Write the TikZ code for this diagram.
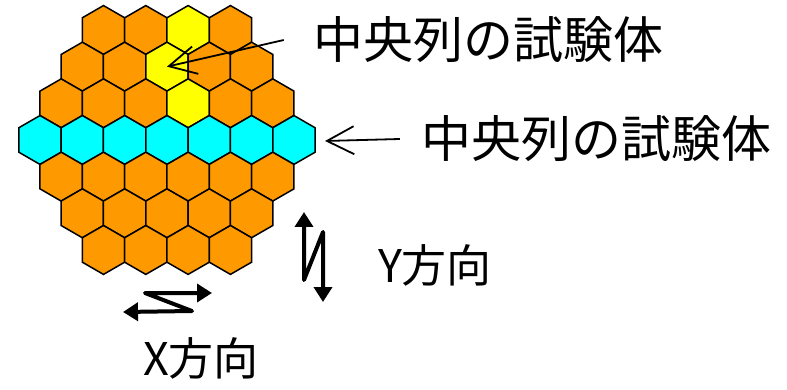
\documentclass[tikz,border=0pt]{standalone}
\usepackage{fontspec}
\setmainfont{Noto Sans CJK JP}
\usetikzlibrary{arrows.meta}
\definecolor{hexorange}{HTML}{FF9900}
\definecolor{hexyellow}{HTML}{FFFF00}
\definecolor{hexcyan}{HTML}{00FFFF}
\begin{document}
\begin{tikzpicture}[x=1pt,y=-1pt,
  hexcell/.style={draw=black, line width=1.5pt, line join=miter},
  bigtext/.style={inner sep=0pt, font=\fontsize{50}{60}\selectfont},
  dirtext/.style={inner sep=0pt, font=\fontsize{45}{54}\selectfont},
  pointer/.style={line width=1.8pt, -{Straight Barb[length=27pt,width=28pt]}},
  dirarrow/.style={line width=4pt, line join=round,
    {Triangle[length=15pt,width=18pt]}-{Triangle[length=15pt,width=18pt]}}]
\useasboundingbox (0,0) rectangle (787,390);
\def\R{24.44}
\def\W{42.32}
\foreach \r/\n in {1/4,2/5,3/6,4/7,5/6,6/5,7/4} {
  \foreach \c in {1,...,\n} {
    \pgfmathsetmacro\cx{40+(7-\n)*\W/2+(\c-1)*\W}
    \pgfmathsetmacro\cy{30+(\r-1)*1.5*\R}
    \def\col{hexorange}
    \ifnum\r=4 \def\col{hexcyan}\fi
    \ifnum\r\c=13 \def\col{hexyellow}\fi
    \ifnum\r\c=23 \def\col{hexyellow}\fi
    \ifnum\r\c=34 \def\col{hexyellow}\fi
    \coordinate (h\r\c) at (\cx,\cy);
    \draw[hexcell, fill=\col] (h\r\c) +(90:\R) -- +(30:\R) -- +(-30:\R)
      -- +(-90:\R) -- +(-150:\R) -- +(150:\R) -- cycle;
  }
}
\node[bigtext] (t1) at (488,40) {中央列の試験体};
\node[bigtext] (t2) at (596,139) {中央列の試験体};
\node[dirtext] (ylab) at (435,265) {Y方向};
\node[dirtext] (xlab) at (201,358) {X方向};
\coordinate (p2) at (325,141);
\draw[pointer] ([xshift=-29pt]t1.west) -- (h23);
\draw[pointer] ([xshift=-21pt]t2.west) -- (p2);
\coordinate (ya) at (304,212);
\coordinate (yb) at (304,280);
\coordinate (yc) at (323,232);
\coordinate (yd) at (323,302);
\draw[dirarrow] (ya) -- (yb) -- (yc) -- (yd);
\coordinate (xa) at (123,312);
\coordinate (xb) at (192,311);
\coordinate (xc) at (145,293);
\coordinate (xd) at (212,293);
\draw[dirarrow] (xa) -- (xb) -- (xc) -- (xd);
\end{tikzpicture}
\end{document}
